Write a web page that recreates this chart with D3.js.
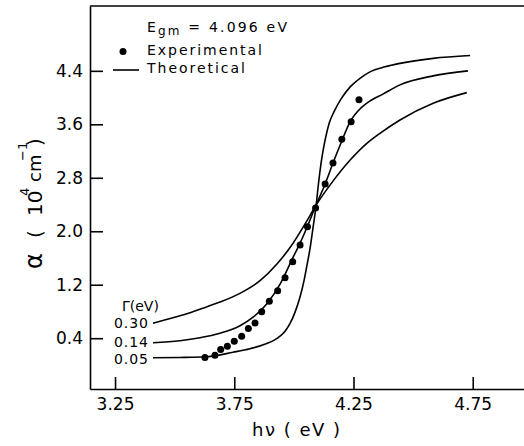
<!DOCTYPE html>
<html>
<head>
<meta charset="utf-8">
<script src="https://cdn.jsdelivr.net/npm/d3@7/dist/d3.min.js"></script>
<style>
body { margin: 0; background: #fff; }
text { font-family: "DejaVu Sans", sans-serif; fill: #000; }
</style>
</head>
<body>
<div id="graphContainer"></div>
<script>
var w = 524;
var h = 446;

// data (x = h nu in eV, y = alpha in 1e4 cm^-1)
var xTicks = [3.25, 3.75, 4.25, 4.75];
var yTicks = [0.4, 1.2, 2.0, 2.8, 3.6, 4.4];
var gammaLabels = ["0.30", "0.14", "0.05"];

var theory030 = [[3.409,0.625],[3.493,0.707],[3.565,0.782],[3.636,0.872],[3.69,0.94],[3.774,1.07],
    [3.858,1.26],[3.929,1.51],[3.984,1.756],[4.047,2.11],[4.093,2.39],[4.164,2.75],[4.236,3.065],
    [4.306,3.315],[4.361,3.465],[4.445,3.665],[4.584,3.915],[4.725,4.074]];
var theory014 = [[3.409,0.333],[3.522,0.363],[3.606,0.407],[3.69,0.475],[3.774,0.587],[3.829,0.715],
    [3.887,0.917],[3.942,1.209],[3.996,1.606],[4.026,1.823],[4.056,2.067],[4.093,2.392],[4.131,2.707],
    [4.164,3.022],[4.201,3.351],[4.236,3.64],[4.269,3.80],[4.306,3.916],[4.375,4.055],[4.445,4.19],
    [4.584,4.325],[4.73,4.40]];
var theory005 = [[3.409,0.108],[3.523,0.112],[3.636,0.123],[3.745,0.19],[3.816,0.243],[3.866,0.295],
    [3.929,0.396],[3.963,0.505],[3.984,0.62],[4.005,0.79],[4.026,1.019],[4.043,1.269],[4.055,1.494],
    [4.068,1.748],[4.08,2.048],[4.093,2.378],[4.103,2.707],[4.116,3.067],[4.131,3.366],[4.147,3.606],
    [4.168,3.786],[4.198,3.98],[4.236,4.16],[4.277,4.288],[4.319,4.385],[4.382,4.46],[4.445,4.512],
    [4.584,4.587],[4.739,4.629]];
var theoryCurves = [theory030, theory014, theory005];

var expX = [3.627,3.669,3.693,3.721,3.750,3.781,3.809,3.837,3.865,3.897,3.932,3.963,3.995,4.026,
    4.057,4.091,4.131,4.164,4.201,4.240,4.273];
var expY = [0.111,0.145,0.231,0.28,0.355,0.43,0.545,0.629,0.794,0.954,1.109,1.303,1.543,1.793,
    2.067,2.348,2.707,3.022,3.377,3.64,3.966];

// svg setup
var margin = {top: 6, right: 0, bottom: 57, left: 90},
    width = w - margin.left - margin.right,
    height = h - margin.top - margin.bottom;

var x = d3.scaleLinear()
    .domain([3.145, 4.965])
    .range([0, width]);

var y = d3.scaleLinear()
    .domain([-0.36, 5.37])
    .range([height, 0]);

var svg = d3.select("#graphContainer")
    .append("svg")
    .attr("width", w)
    .attr("height", h);

var mySVG = svg.append("g")
    .attr("transform", "translate(" + margin.left + "," + margin.top + ")");

// axes, ticks pointing inward
var xAxis = d3.axisBottom(x)
    .tickValues(xTicks)
    .tickFormat(d3.format(".2f"))
    .tickSize(-12)
    .tickSizeOuter(0)
    .tickPadding(9);

var yAxis = d3.axisLeft(y)
    .tickValues(yTicks)
    .tickFormat(d3.format(".1f"))
    .tickSize(-13)
    .tickSizeOuter(0)
    .tickPadding(7);

var gx = mySVG.append("g")
    .attr("transform", "translate(0," + height + ")")
    .call(xAxis);

var gy = mySVG.append("g")
    .call(yAxis);

[gx, gy].forEach(function (g) {
    g.selectAll("path, line").attr("stroke", "#000").attr("stroke-width", 1.6);
    g.selectAll("text")
        .attr("font-family", "DejaVu Sans, sans-serif")
        .attr("font-size", 17)
        .attr("fill", "#000");
});

// top edge of the frame
mySVG.append("line")
    .attr("x1", 0).attr("x2", width)
    .attr("y1", 0).attr("y2", 0)
    .attr("stroke", "#000")
    .attr("stroke-width", 1.6);

// theoretical curves
var line = d3.line()
    .x(function(d) { return x(d[0]); })
    .y(function(d) { return y(d[1]); })
    .curve(d3.curveMonotoneX);

mySVG.selectAll(".theory")
    .data(theoryCurves)
    .enter().append("path")
    .attr("class", "theory")
    .attr("d", line)
    .attr("fill", "none")
    .attr("stroke", "#000")
    .attr("stroke-width", 1.6);

// gamma labels at the left end of each curve
var labelShift = [5, 4, 6];
mySVG.selectAll(".glabel")
    .data(theoryCurves)
    .enter().append("text")
    .attr("class", "glabel")
    .attr("x", function(d) { return x(d[0][0]) - 5; })
    .attr("y", function(d, i) { return y(d[0][1]) + labelShift[i]; })
    .attr("text-anchor", "end")
    .attr("font-size", 14)
    .attr("textLength", 34)
    .attr("lengthAdjust", "spacing")
    .text(function(d, i) { return gammaLabels[i]; });

mySVG.append("text")
    .attr("x", x(theory030[0][0]) - 31)
    .attr("y", y(theory030[0][1]) - 12)
    .attr("font-size", 14)
    .text("\u0393(eV)");

// experimental points
mySVG.selectAll(".pt")
    .data(expX)
    .enter().append("circle")
    .attr("class", "pt")
    .attr("cx", function(d) { return x(d); })
    .attr("cy", function(d, i) { return y(expY[i]); })
    .attr("r", 3.5)
    .attr("fill", "#000");

// legend
var egm = svg.append("text")
    .attr("x", 147).attr("y", 32)
    .attr("font-size", 14)
    .attr("textLength", 140)
    .attr("lengthAdjust", "spacing");
egm.append("tspan").text("E");
egm.append("tspan").attr("dy", 3).attr("font-size", 12).text("gm");
egm.append("tspan").attr("dy", -3).text(" = 4.096 eV");

svg.append("circle")
    .attr("cx", 123).attr("cy", 51.5).attr("r", 3.5).attr("fill", "#000");
svg.append("text")
    .attr("x", 147).attr("y", 54.5)
    .attr("font-size", 14)
    .attr("textLength", 115)
    .attr("lengthAdjust", "spacing")
    .text("Experimental");

svg.append("line")
    .attr("x1", 113).attr("x2", 139)
    .attr("y1", 70).attr("y2", 70)
    .attr("stroke", "#000").attr("stroke-width", 1.6);
svg.append("text")
    .attr("x", 147).attr("y", 73)
    .attr("font-size", 14)
    .attr("textLength", 98)
    .attr("lengthAdjust", "spacing")
    .text("Theoretical");

// axis titles
svg.append("text")
    .attr("x", 252).attr("y", 436)
    .attr("font-size", 18)
    .attr("textLength", 88)
    .attr("lengthAdjust", "spacing")
    .text("h\u03bd ( eV )");

var ylab = [
    {t: "\u03b1", x: 42, y: 269, s: 24},
    {t: "(", x: 42, y: 238, s: 20},
    {t: "10", x: 42, y: 216, s: 20},
    {t: "4", x: 29, y: 196, s: 13},
    {t: "cm", x: 41, y: 182, s: 18},
    {t: "\u22121", x: 27, y: 161, s: 13},
    {t: ")", x: 42, y: 146, s: 20}
];
svg.selectAll(".ylab")
    .data(ylab)
    .enter().append("text")
    .attr("class", "ylab")
    .attr("transform", function(d) { return "translate(" + d.x + "," + d.y + ") rotate(-90)"; })
    .attr("font-size", function(d) { return d.s; })
    .text(function(d) { return d.t; });
</script>
</body>
</html>
